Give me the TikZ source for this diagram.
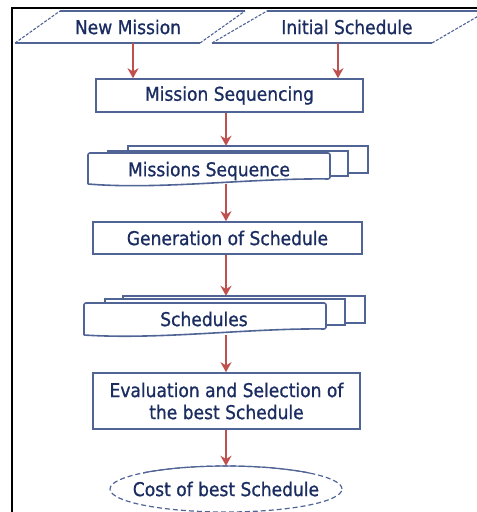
\documentclass[tikz,border=0pt]{standalone}
\usepackage{fontspec}
\setmainfont{DejaVu Sans Condensed}
\newfontfamily\heavy[FakeBold=0.9]{DejaVu Sans Condensed}
\usetikzlibrary{arrows.meta}
\definecolor{edge}{RGB}{80,100,150}
\definecolor{ink}{RGB}{26,44,96}
\definecolor{arrowred}{RGB}{192,80,77}
\begin{document}
\begin{tikzpicture}[x=1pt,y=-1pt,
  lbl/.style={font=\heavy\fontsize{19}{22}\selectfont, text=ink, inner sep=0pt, align=center},
  box/.style={draw=edge, line width=1.6pt},
  edgeline/.style={draw=edge, line width=1.6pt},
  slant/.style={draw=edge, line width=1.1pt, dash pattern=on 3pt off 1.5pt},
  holder/.style={inner sep=0pt, draw=none},
  arr/.style={draw=arrowred, line width=2pt, -{Stealth[length=10pt,width=11pt]}},
  ]
\useasboundingbox (0,0) rectangle (477,512);
% frame
\draw[black, line width=1.5pt] (12,512) -- (12,8) -- (477,8);

% spine coordinates for vertical arrows
\coordinate (sp) at (226,0);
\coordinate (c1) at (133,0);
\coordinate (c2) at (338,0);

% New Mission parallelogram
\draw[edgeline] (60,11) -- (245,11);
\draw[edgeline] (15,43) -- (200,43);
\draw[slant] (15,43) -- (60,11);
\draw[slant] (200,43) -- (245,11);
\node[holder, minimum width=185pt, minimum height=32pt] (nm) at (130,27) {};
\node[lbl] (nmt) at (128,27) {New Mission};

% Initial Schedule parallelogram
\draw[edgeline] (267,11) -- (490,11);
\draw[edgeline] (212,43) -- (432,43);
\draw[slant] (212,43) -- (267,11);
\draw[slant] (432,43) -- (487,11);
\node[holder, minimum width=220pt, minimum height=32pt] (is) at (349,27) {};
\node[lbl] (ist) at (347,27) {Initial Schedule};

% Mission Sequencing
\node[box, lbl, minimum width=267pt, minimum height=33pt] (ms) at (229.5,95.5) {Mission Sequencing};

% Missions Sequence (multi document)
\draw[edgeline] (128,151) -- (128,146) -- (368,146) -- (368,173) -- (348,173);
\draw[edgeline] (108,153) -- (108,151) -- (348,151) -- (348,176) -- (330,176);
\draw[edgeline, rounded corners=2pt] (88,184) -- (88,153) -- (330,153) -- (330,179)
   .. controls (250,178) and (160,190) .. (88,184);
\node[holder, minimum width=280pt, minimum height=38pt] (seq) at (228,165) {};
\node[lbl] (seqt) at (209,171) {Missions Sequence};

% Generation of Schedule
\node[box, lbl, minimum width=269pt, minimum height=32pt] (gen) at (227.5,238) {Generation of Schedule};

% Schedules (multi document)
\draw[edgeline] (123,299) -- (123,296) -- (365,296) -- (365,323) -- (345,323);
\draw[edgeline] (105,303) -- (105,299) -- (345,299) -- (345,325) -- (326,325);
\draw[edgeline, rounded corners=2pt] (84,335) -- (84,303) -- (326,303) -- (326,329)
   .. controls (250,328) and (160,340) .. (84,335);
\node[holder, minimum width=281pt, minimum height=39pt] (sch) at (224.5,315.5) {};
\node[lbl] (scht) at (204,319) {Schedules};

% Evaluation
\node[box, lbl, minimum width=267pt, minimum height=56pt] (ev) at (226.5,401) {Evaluation and Selection of\\the best Schedule};

% Cost ellipse
\node[holder, minimum width=232pt, minimum height=46pt] (cost) at (226,489) {};
\draw[edge, line width=1.2pt, dash pattern=on 5pt off 3pt] (cost.center) ellipse [x radius=116pt, y radius=23pt];
\begin{scope}
  \clip (143,455) rectangle (310,474);
  \draw[edge, line width=1.2pt] (cost.center) ellipse [x radius=116pt, y radius=23pt];
\end{scope}
\node[lbl] (costt) at (226,489) {Cost of best Schedule};

% arrows
\draw[arr] (nm.south -| c1) -- (ms.north -| c1);
\draw[arr] (is.south -| c2) -- (ms.north -| c2);
\draw[arr] (ms.south -| sp) -- (seq.north -| sp);
\draw[arr] (seq.south -| sp) -- (gen.north -| sp);
\draw[arr] (gen.south -| sp) -- (sch.north -| sp);
\draw[arr] (sch.south -| sp) -- (ev.north -| sp);
\draw[arr] (ev.south -| sp) -- (cost.north -| sp);
\end{tikzpicture}
\end{document}
